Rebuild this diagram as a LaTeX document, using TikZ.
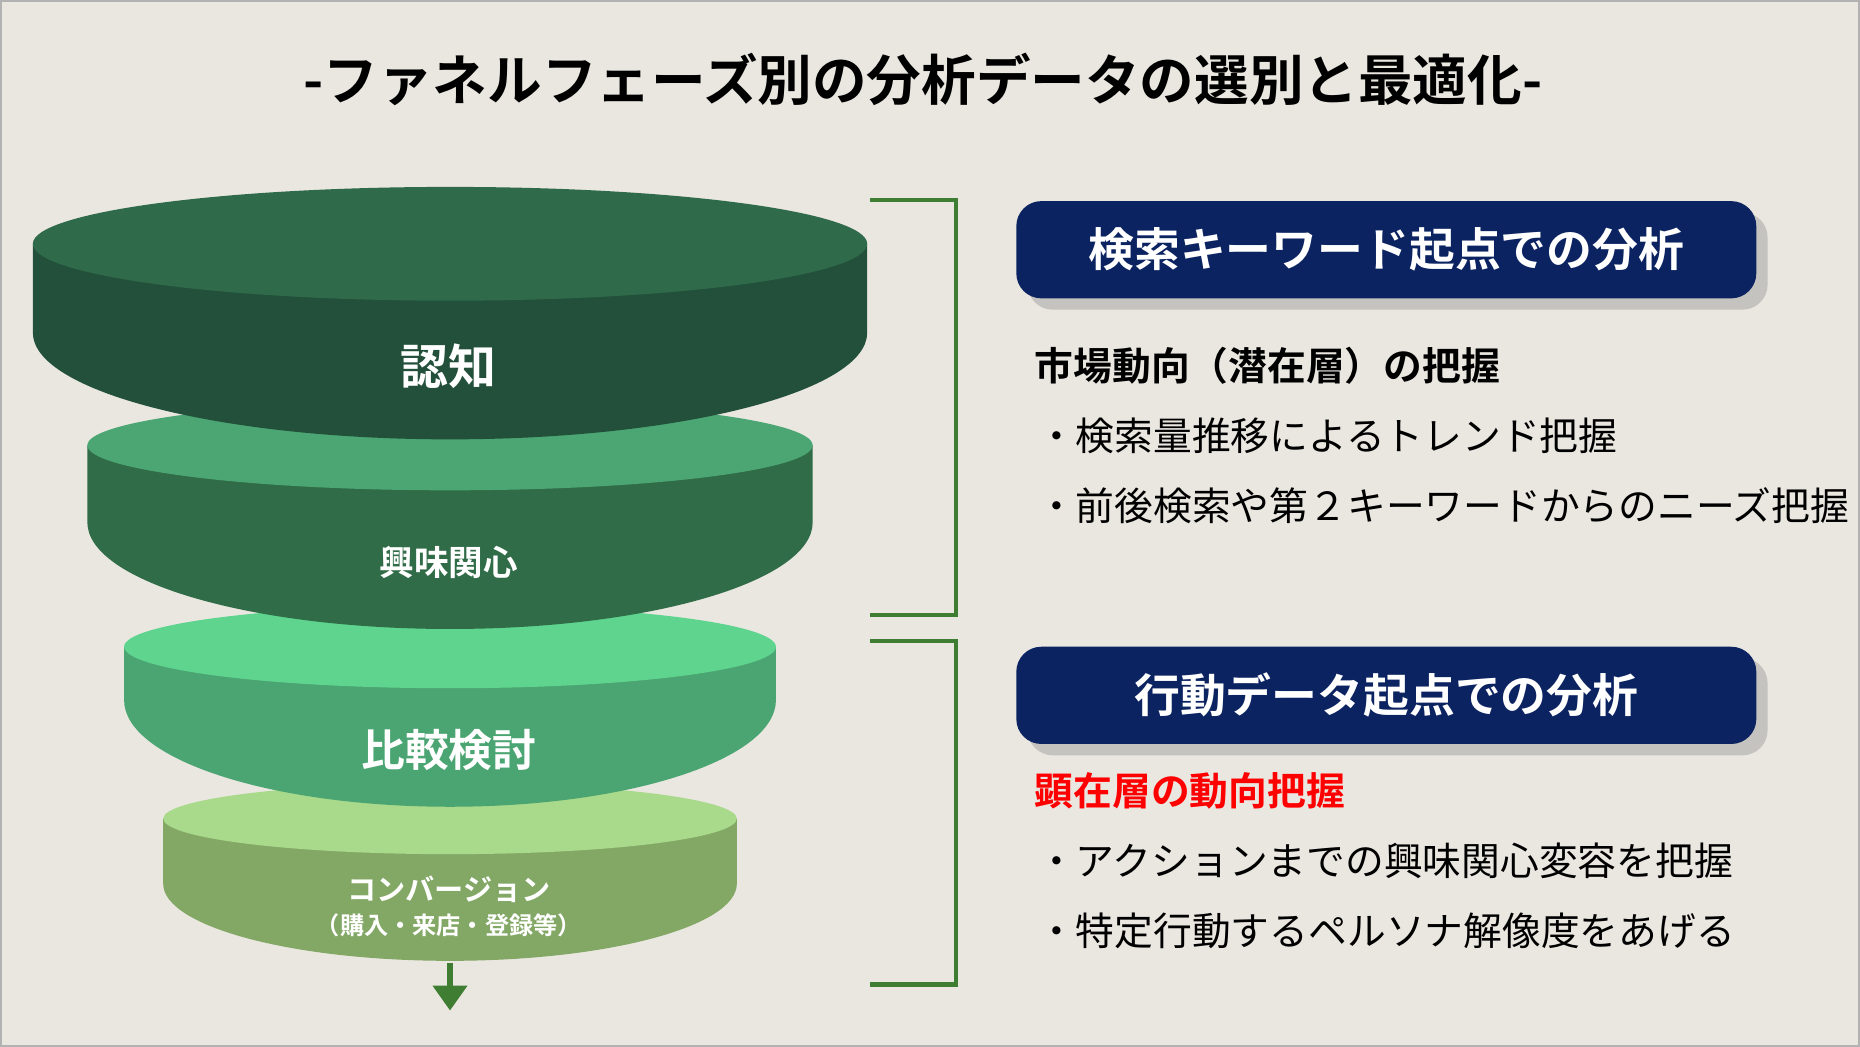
\documentclass[tikz,border=0pt]{standalone}
\usepackage{fontspec}
\setmainfont{Noto Sans CJK JP}
\newfontfamily\jpbold{Noto Sans CJK JP Bold}
\usetikzlibrary{positioning,arrows.meta,shadows}
\definecolor{bgc}{HTML}{EAE7E1}
\definecolor{navy}{HTML}{0B2361}
\definecolor{brk}{HTML}{3E7D32}
\definecolor{topA}{HTML}{2F6B4B}\definecolor{sideA}{HTML}{23503A}
\definecolor{topB}{HTML}{4BA673}\definecolor{sideB}{HTML}{2F6C47}
\definecolor{topC}{HTML}{5ED48E}\definecolor{sideC}{HTML}{4BA572}
\definecolor{topD}{HTML}{A9D98A}\definecolor{sideD}{HTML}{83A866}
\tikzset{
  disc/.style={white,font=\jpbold},
  headbox/.style={fill=navy,rounded corners=6pt,minimum width=6.24cm,minimum height=0.82cm,
    text=white,font=\jpbold\fontsize{11}{13}\selectfont,drop shadow={opacity=0.35}},
  item/.style={anchor=west,font=\fontsize{9.3}{11}\selectfont},
  bracket/.style={brk,line width=1pt}
}
% disc: x center, top y, top ry, side y, bottom ry, rx, top colour, side colour
\newcommand{\fdisc}[8]{%
  \fill[#8] (#1-#6,#2) -- (#1-#6,#4) arc[start angle=180,end angle=0,x radius=#6,y radius=#5] -- (#1+#6,#2) -- cycle;
  \fill[#7] (#1,#2) ellipse[x radius=#6,y radius=#3];
}
\begin{document}
\begin{tikzpicture}[x=0.01cm,y=-0.01cm]
\fill[bgc,draw=gray!60] (0,0) rectangle (1568,882);
\useasboundingbox (0,0) rectangle (1568,882);
\node[font=\jpbold\fontsize{13.1}{15}\selectfont] (title) at (778,66) {-ファネルフェーズ別の分析データの選別と最適化-};
% funnel
\fdisc{379}{690}{30}{745}{65}{242}{topD}{sideD}
\fdisc{379}{545}{35}{590}{90}{275}{topC}{sideC}
\fdisc{379}{375}{38}{440}{90}{306}{topB}{sideB}
\fdisc{379}{205}{48}{280}{90}{352}{topA}{sideA}
\node[disc,font=\jpbold\fontsize{11.5}{13}\selectfont] (ninchi) at (378,308) {認知};
\node[disc,font=\jpbold\fontsize{8.3}{10}\selectfont] (kyomi) at (378,474) {興味関心};
\node[disc,font=\jpbold\fontsize{10.5}{12}\selectfont] (hikaku) at (378,632) {比較検討};
\node[disc,font=\jpbold\fontsize{7}{8}\selectfont] (cv) at (378,750) {コンバージョン};
\node[disc,font=\jpbold\fontsize{5.8}{7}\selectfont] (cvsub) at (378,780) {（購入・来店・登録等）};
\coordinate (arrS) at (379,812);
\coordinate (arrE) at (379,852);
\draw[brk,line width=1.6pt,-{Triangle[length=6pt,width=8pt]}] (arrS) -- (arrE);
% brackets
\draw[bracket] (733,168) -- (806,168) -- (806,518) -- (733,518);
\draw[bracket] (733,540) -- (806,540) -- (806,830) -- (733,830);
% right side
\node[headbox] (head1) at (1169,210) {検索キーワード起点での分析};
\node[headbox] (head2) at (1169,586) {行動データ起点での分析};
\node[item,font=\jpbold\fontsize{9.3}{11}\selectfont] (sub1) at (860,308) {市場動向（潜在層）の把握};
\node[item] (b11) at (862,367) {・検索量推移によるトレンド把握};
\node[item] (b12) at (862,426) {・前後検索や第２キーワードからのニーズ把握};
\node[item,red,font=\jpbold\fontsize{9.3}{11}\selectfont] (sub2) at (860,667) {顕在層の動向把握};
\node[item] (b21) at (862,726) {・アクションまでの興味関心変容を把握};
\node[item] (b22) at (862,785) {・特定行動するペルソナ解像度をあげる};
\end{tikzpicture}
\end{document}
